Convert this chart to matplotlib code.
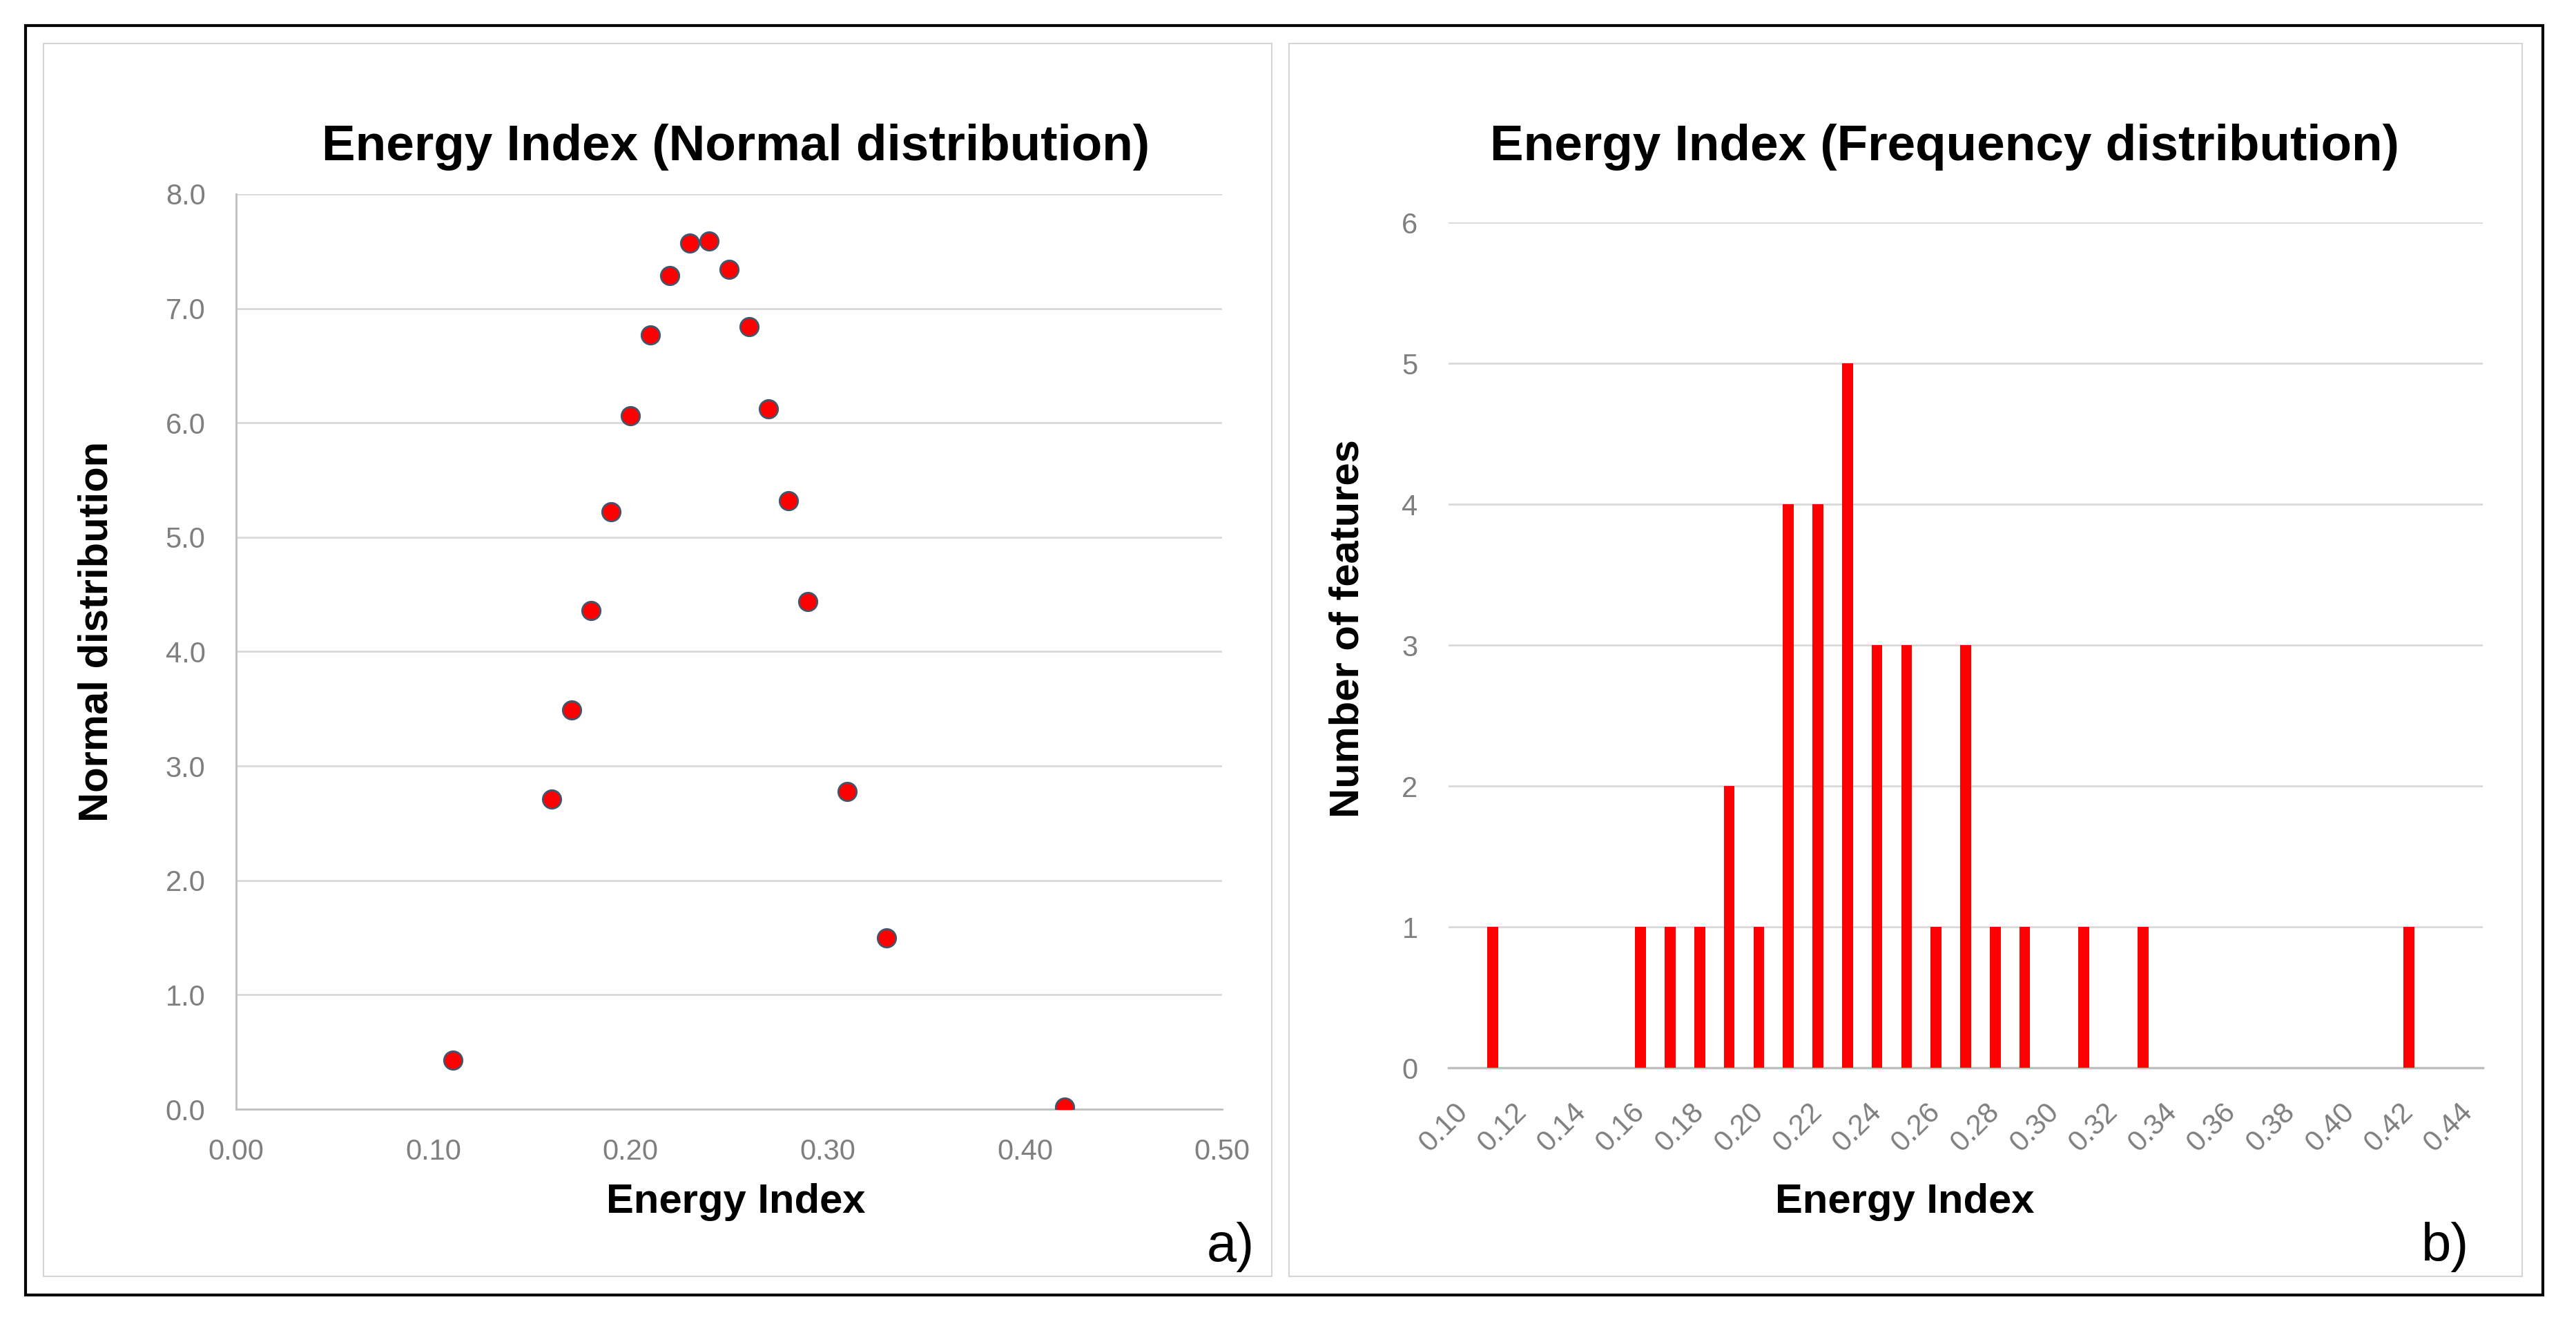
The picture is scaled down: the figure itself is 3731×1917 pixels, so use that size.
import matplotlib
matplotlib.use("Agg")
import matplotlib.pyplot as plt
from matplotlib.patches import Rectangle

# ---------------- data ----------------
energy_index = [0.11, 0.16, 0.17, 0.18, 0.19, 0.20, 0.21, 0.22, 0.23, 0.24,
                0.25, 0.26, 0.27, 0.28, 0.29, 0.31, 0.33, 0.42]
normal_dist = [0.43, 2.71, 3.49, 4.36, 5.22, 6.06, 6.77, 7.29, 7.57, 7.59,
               7.34, 6.84, 6.12, 5.32, 4.44, 2.78, 1.50, 0.02]

categories = ["0.10", "0.11", "0.12", "0.13", "0.14", "0.15", "0.16", "0.17",
              "0.18", "0.19", "0.20", "0.21", "0.22", "0.23", "0.24", "0.25",
              "0.26", "0.27", "0.28", "0.29", "0.30", "0.31", "0.32", "0.33",
              "0.34", "0.35", "0.36", "0.37", "0.38", "0.39", "0.40", "0.41",
              "0.42", "0.43", "0.44"]
counts = [0, 1, 0, 0, 0, 0, 1, 1, 1, 2, 1, 4, 4, 5, 3, 3, 1, 3, 1, 1, 0, 1,
          0, 1, 0, 0, 0, 0, 0, 0, 0, 0, 1, 0, 0]

left_xticks = [0.0, 0.1, 0.2, 0.3, 0.4, 0.5]
left_yticks = [0, 1, 2, 3, 4, 5, 6, 7, 8]
right_yticks = [0, 1, 2, 3, 4, 5, 6]

# ---------------- style ----------------
W, H = 3731, 1917
DPI = 100
FONT = ["Liberation Sans", "DejaVu Sans"]
plt.rcParams["font.family"] = FONT
TICK_C = "#7F7F7F"
GRID_C = "#D9D9D9"
SPINE_C = "#BFBFBF"
TICK_FS = 30
LABEL_FS = 43
TITLE_FS = 52.5

fig = plt.figure(figsize=(W / DPI, H / DPI), dpi=DPI)


def fx(px):
    return px / W


def fy(py):
    return 1 - py / H


def rect(x0, y0, x1, y1, color, lw):
    r = Rectangle((fx(x0), fy(y1)), fx(x1) - fx(x0), fy(y0) - fy(y1),
                  transform=fig.transFigure, fill=False, edgecolor=color,
                  linewidth=lw, zorder=0)
    fig.add_artist(r)


# frames
rect(37, 37, 3683, 1875, "black", 3)
rect(63, 63, 1842, 1848, "#D5D5D5", 1.5)
rect(1867, 63, 3653, 1848, "#D5D5D5", 1.5)

# ---------------- left: scatter ----------------
axL = fig.add_axes([fx(342), fy(1606), fx(1770) - fx(342), fy(281) - fy(1606)])
axL.scatter(energy_index, normal_dist, s=19 ** 2, facecolor="#FF0000",
            edgecolor="#44546A", linewidth=2, zorder=3)
axL.set_xlim(0, 0.5)
axL.set_ylim(0, 8)
axL.set_xticks(left_xticks)
axL.set_xticklabels([f"{v:.2f}" for v in left_xticks])
axL.set_yticks(left_yticks)
axL.set_yticklabels([f"{v:.1f}" for v in left_yticks])
axL.grid(axis="y", color=GRID_C, linewidth=2)
axL.set_axisbelow(True)
for s in ["top", "right"]:
    axL.spines[s].set_visible(False)
for s in ["left", "bottom"]:
    axL.spines[s].set_color(SPINE_C)
    axL.spines[s].set_linewidth(2)
axL.tick_params(length=0, labelsize=TICK_FS, labelcolor=TICK_C)
axL.tick_params(axis="y", pad=32)
axL.tick_params(axis="x", pad=30)

# ---------------- right: bars ----------------
axR = fig.add_axes([fx(2098), fy(1546), fx(3596) - fx(2098), fy(322) - fy(1546)])
xpos = list(range(len(categories)))
axR.bar(xpos, counts, width=0.36, color="#FF0000", zorder=3)
axR.set_xlim(-0.5, len(categories) - 0.5)
axR.set_ylim(0, 6)
axR.set_yticks(right_yticks)
axR.set_yticklabels([str(v) for v in right_yticks])
axR.set_xticks(xpos[::2])
axR.set_xticklabels(categories[::2], rotation=45, ha="right",
                    rotation_mode="anchor", va="center")
axR.grid(axis="y", color=GRID_C, linewidth=2)
axR.set_axisbelow(True)
for s in ["top", "right", "left"]:
    axR.spines[s].set_visible(False)
axR.spines["bottom"].set_color(SPINE_C)
axR.spines["bottom"].set_linewidth(2.5)
axR.tick_params(length=0, labelsize=TICK_FS, labelcolor=TICK_C)
axR.tick_params(axis="y", pad=32)
axR.tick_params(axis="x", pad=42)

# ---------------- texts ----------------
fig.text(fx(1066), fy(213), "Energy Index (Normal distribution)",
         fontsize=TITLE_FS, fontweight="bold", ha="center", va="center")
fig.text(fx(2816), fy(213), "Energy Index (Frequency distribution)",
         fontsize=TITLE_FS, fontweight="bold", ha="center", va="center")
fig.text(fx(1066), fy(1740), "Energy Index", fontsize=LABEL_FS,
         fontweight="bold", ha="center", va="center")
fig.text(fx(2759), fy(1740), "Energy Index", fontsize=LABEL_FS,
         fontweight="bold", ha="center", va="center")
fig.text(fx(140), fy(914), "Normal distribution", fontsize=LABEL_FS,
         fontweight="bold", ha="center", va="center", rotation=90)
fig.text(fx(1952), fy(910), "Number of features", fontsize=LABEL_FS,
         fontweight="bold", ha="center", va="center", rotation=90)
fig.text(fx(1782), fy(1805), "a)", fontsize=56, ha="center", va="center")
fig.text(fx(3542), fy(1805), "b)", fontsize=56, ha="center", va="center")

fig.savefig("out.png", dpi=DPI)
